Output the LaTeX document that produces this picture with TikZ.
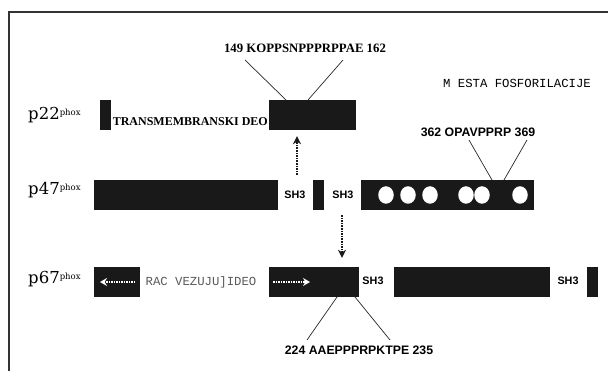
\documentclass[tikz,border=0pt]{standalone}
\usepackage{fontspec}
\usepackage{tikz}
\usetikzlibrary{positioning,arrows.meta,calc,shapes.geometric}
\newfontfamily\lsans{Liberation Sans}
\newfontfamily\lserif{Liberation Serif}
\newfontfamily\lmono{Liberation Mono}
\newfontfamily\dserif{DejaVu Serif}
\newcommand{\phox}{\raisebox{4.5pt}{\fontsize{8.5}{9}\selectfont phox}}
\tikzset{
  >={Stealth[length=2.2mm]},
  frame/.style={line width=1.3pt,black!80},
  bar/.style={fill=black!90,draw=none,inner sep=0pt,minimum height=30pt},
  prot/.style={anchor=base west,inner sep=0pt,font=\dserif\fontsize{16.5}{18}\selectfont},
  sh/.style={inner sep=1pt,font=\lsans\bfseries\fontsize{10.8}{12}\selectfont},
  seqsans/.style={inner sep=1pt,font=\lsans\bfseries\fontsize{12.3}{14}\selectfont},
  seqser/.style={inner sep=1pt,font=\lserif\bfseries\fontsize{12.8}{14}\selectfont},
  tmtext/.style={inner sep=0.5pt,font=\lserif\bfseries\fontsize{12}{14}\selectfont},
  mono/.style={inner sep=1pt,font=\lmono\fontsize{12.3}{14}\selectfont},
  site/.style={ellipse,fill=white,draw=none,minimum width=15.5pt,
    minimum height=17.5pt,inner sep=0pt},
  ptr/.style={line width=0.7pt,black!85},
  dotarr/.style={-{Stealth[length=8pt,width=8pt]},line width=2pt,
    dash pattern=on 1.6pt off 1pt,black!90},
  whitearr/.style={-{Stealth[length=7pt,width=8pt]},line width=1.8pt,
    dash pattern=on 1.5pt off 1pt,white},
}
\begin{document}
\begin{tikzpicture}[x=1pt,y=-1pt]
  \useasboundingbox (0,0) rectangle (608,371);
  \draw[frame] (9,371) -- (9,12) -- (608,12);

  \node[prot] (p22) at (28,120) {p22\phox};
  \node[bar,minimum width=11pt] (b22a) at (105.5,115) {};
  \node[bar,minimum width=87pt] (b22b) at (312.5,115) {};
  \node[tmtext,anchor=east] (tmd) at (268.5,122) {TRANSMEMBRANSKI DEO};
  \node[seqser] (k22) at (305,48) {149 KOPPSNPPPRPPAE 162};
  \coordinate (k22a) at (286,100);
  \coordinate (k22b) at (308,100);
  \coordinate (k22c) at (245,60);
  \coordinate (k22d) at (343,60);
  \draw[ptr] (k22a) -- (k22c);
  \draw[ptr] (k22b) -- (k22d);
  \node[mono] (mesta) at (517,83) {M ESTA FOSFORILACIJE};

  \node[prot] (p47) at (28,195) {p47\phox};
  \node[bar,minimum width=184pt] (b47a) at (186,195) {};
  \node[sh,right=5pt of b47a] (sh47a) {SH3};
  \node[bar,minimum width=11pt] (b47b) at (318.5,195) {};
  \node[sh,right=7pt of b47b] (sh47b) {SH3};
  \node[bar,minimum width=173pt] (b47c) at (447.5,195) {};
  \foreach \x [count=\i] in {386,408,430,466,482,520}
    \node[site] (s\i) at (\x,195) {};
  \node[seqsans] (k47) at (478,132) {362 OPAVPPRP 369};
  \coordinate (k47a) at (492,180);
  \coordinate (k47b) at (504,180);
  \coordinate (k47c) at (469,140);
  \coordinate (k47d) at (527,140);
  \draw[ptr] (k47a) -- (k47c);
  \draw[ptr] (k47b) -- (k47d);

  \node[prot] (p67) at (28,284) {p67\phox};
  \node[bar,minimum width=46pt] (b67a) at (117,282) {};
  \node[mono,black!65] (rac) at (201,282) {RAC VEZUJU]IDEO};
  \node[bar,minimum width=90pt] (b67b) at (314,282) {};
  \node[sh] (sh67a) at (373,281) {SH3};
  \node[bar,minimum width=156pt] (b67c) at (472,282) {};
  \node[sh] (sh67b) at (568,281) {SH3};
  \node[bar,minimum width=11pt] (b67d) at (592.5,282) {};
  \coordinate (wa1) at (135,282);
  \coordinate (wa2) at (100,282);
  \coordinate (wb1) at (273,282);
  \coordinate (wb2) at (310,282);
  \draw[whitearr] (wa1) -- (wa2);
  \draw[whitearr] (wb1) -- (wb2);
  \node[seqsans] (k67) at (359,350) {224 AAEPPPRPKTPE 235};
  \coordinate (k67a) at (337,297);
  \coordinate (k67b) at (355,297);
  \coordinate (k67c) at (307,340);
  \coordinate (k67d) at (390,340);
  \draw[ptr] (k67a) -- (k67c);
  \draw[ptr] (k67b) -- (k67d);

  \coordinate (up0) at (297,175);
  \draw[dotarr,shorten >=6pt] (up0) -- (up0 |- b22b.south);
  \coordinate (dn0) at (342,215);
  \draw[dotarr,shorten >=9pt] (dn0) -- (dn0 |- b67b.north);
\end{tikzpicture}
\end{document}
